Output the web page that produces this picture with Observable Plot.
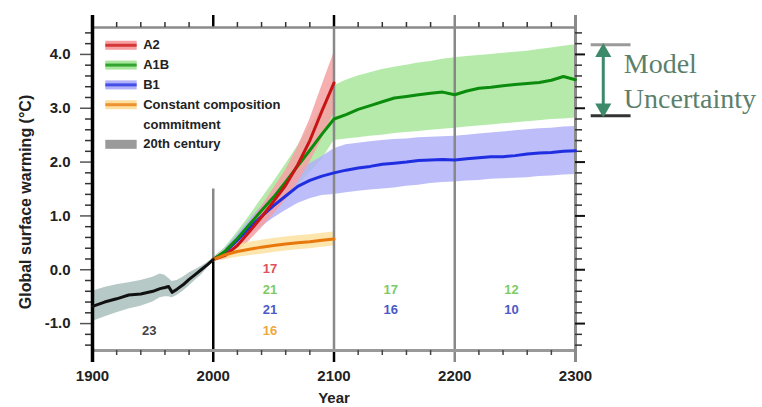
<!DOCTYPE html>
<html><head><meta charset="utf-8">
<script src="https://cdn.jsdelivr.net/npm/d3@7"></script>
<script src="https://cdn.jsdelivr.net/npm/@observablehq/plot@0.6"></script>
<style>body{margin:0;background:#fff}</style>
</head><body><div id="chart"></div>
<script>
// ---------- data ----------
const yrs20 = [1900,1910,1920,1930,1940,1950,1956,1960,1963,1966,1970,1975,1980,1985,1990,1995,2000];
const mean20 = [-0.68,-0.60,-0.54,-0.47,-0.45,-0.40,-0.35,-0.33,-0.31,-0.42,-0.36,-0.28,-0.18,-0.09,0.00,0.09,0.19];
const hi20   = [-0.40,-0.33,-0.28,-0.24,-0.20,-0.14,-0.08,-0.10,-0.16,-0.22,-0.20,-0.14,-0.06,0.00,0.06,0.13,0.22];
const lo20   = [-0.96,-0.88,-0.80,-0.73,-0.68,-0.60,-0.52,-0.50,-0.50,-0.52,-0.48,-0.40,-0.30,-0.20,-0.10,0.03,0.15];

const yrs21 = [2000,2010,2020,2030,2040,2050,2060,2070,2080,2090,2100];
const a2Mean = [0.19,0.27,0.45,0.71,0.98,1.27,1.57,1.95,2.40,2.95,3.47];
const a2Hi   = [0.22,0.35,0.57,0.86,1.17,1.51,1.85,2.28,2.79,3.42,4.03];
const a2Lo   = [0.16,0.19,0.33,0.54,0.77,1.03,1.29,1.62,1.99,2.43,2.91];

const ccMean = [0.19,0.28,0.34,0.38,0.42,0.45,0.48,0.50,0.52,0.55,0.57];
const ccHi   = [0.22,0.38,0.46,0.51,0.55,0.58,0.61,0.63,0.65,0.68,0.70];
const ccLo   = [0.16,0.19,0.23,0.26,0.29,0.32,0.35,0.37,0.39,0.42,0.44];

const yrsLong = [2000,2010,2020,2030,2040,2050,2060,2070,2080,2090,2100,
                 2110,2120,2130,2140,2150,2160,2170,2180,2190,2200,
                 2210,2220,2230,2240,2250,2260,2270,2280,2290,2300];
const a1bMean = [0.19,0.35,0.58,0.84,1.10,1.35,1.63,1.93,2.22,2.52,2.80,
                 2.88,2.98,3.05,3.12,3.19,3.22,3.25,3.28,3.30,3.25,
                 3.32,3.37,3.39,3.42,3.44,3.46,3.48,3.52,3.59,3.53];
const a1bHi   = [0.22,0.42,0.70,1.00,1.32,1.63,1.96,2.30,2.66,3.03,3.42,
                 3.52,3.60,3.66,3.72,3.76,3.80,3.84,3.87,3.91,3.94,
                 3.96,3.98,4.00,4.02,4.04,4.06,4.09,4.12,4.15,4.18];
const a1bLo   = [0.16,0.28,0.46,0.68,0.88,1.07,1.30,1.56,1.80,2.05,2.40,
                 2.43,2.45,2.48,2.50,2.53,2.55,2.57,2.59,2.61,2.63,
                 2.65,2.67,2.69,2.71,2.73,2.75,2.77,2.79,2.80,2.82];
const b1Mean  = [0.19,0.33,0.55,0.78,0.99,1.19,1.37,1.55,1.66,1.74,1.80,
                 1.85,1.89,1.92,1.96,1.98,2.00,2.03,2.04,2.05,2.04,
                 2.06,2.08,2.10,2.10,2.12,2.15,2.17,2.18,2.20,2.21];
const b1Hi    = [0.22,0.40,0.65,0.92,1.18,1.42,1.63,1.82,1.97,2.10,2.25,
                 2.32,2.35,2.38,2.40,2.42,2.43,2.45,2.46,2.47,2.48,
                 2.50,2.52,2.54,2.56,2.58,2.60,2.62,2.63,2.65,2.66];
const b1Lo    = [0.16,0.27,0.44,0.63,0.80,0.96,1.10,1.23,1.32,1.38,1.40,
                 1.43,1.46,1.48,1.50,1.52,1.55,1.57,1.60,1.62,1.63,
                 1.65,1.66,1.68,1.69,1.70,1.71,1.73,1.74,1.76,1.77];

// number of models per period and scenario
const countPeriods   = [1900, 2000, 2000, 2000, 2000, 2100, 2100, 2200, 2200];
const countScenarios = ["20th century","A2","A1B","B1","Constant composition commitment","A1B","B1","A1B","B1"];
const countN         = [23, 17, 21, 21, 16, 17, 16, 12, 10];

const legendLabels = ["A2","A1B","B1","Constant composition\ncommitment","20th century"];
const xTicks = [1900, 2000, 2100, 2200, 2300];
const yTicks = [-1, 0, 1, 2, 3, 4];
const yLabel = "Global surface warming (°C)";
const xLabel = "Year";
const uncertaintyLines = ["Model", "Uncertainty"];

// ---------- styles ----------
const F = "Liberation Sans, Arial, Helvetica, sans-serif";
const scen = {
  "A2": {line: "#c81414", band: "#f6a0a2"},
  "A1B": {line: "#0c8c0c", band: "#a8e69c"},
  "B1": {line: "#1e2ee0", band: "#b2b2f8"},
  "Constant composition commitment": {line: "#e8780c", band: "#fde0a0"},
  "20th century": {line: "#111111", band: "#a9bfbd"}
};
const numColor = {
  "A2": "#e0505a", "A1B": "#7ccc66", "B1": "#4a5ac8",
  "Constant composition commitment": "#f0a840", "20th century": "#444444"
};
const rowOf = {"A2": 0, "A1B": 1, "B1": 2, "Constant composition commitment": 3, "20th century": 3};

const rows = (yrs, m, hi, lo) => yrs.map((x, i) => ({x, m: m[i], hi: hi[i], lo: lo[i]}));
const r20 = rows(yrs20, mean20, hi20, lo20);
const rA2 = rows(yrs21, a2Mean, a2Hi, a2Lo);
const rCC = rows(yrs21, ccMean, ccHi, ccLo);
const rA1B = rows(yrsLong, a1bMean, a1bHi, a1bLo);
const rB1 = rows(yrsLong, b1Mean, b1Hi, b1Lo);

const counts = countN.map((n, i) => ({
  n, scen: countScenarios[i],
  x: countPeriods[i] + 47,
  y: 0.02 - 0.385 * rowOf[countScenarios[i]]
}));

// legend layout
const legendKeys = ["A2","A1B","B1","Constant composition commitment","20th century"];
let row = 0;
const legendText = [], legendSw = [];
legendLabels.forEach((lab, i) => {
  legendSw.push({row, key: legendKeys[i]});
  lab.split("\n").forEach(t => { legendText.push({row, t}); row++; });
});
const legY = r => 4.17 - 0.368 * r;

const yMinor = d3.range(-1.4, 4.41, 0.2).map(v => Math.round(v * 10) / 10).filter(v => Math.abs(v - Math.round(v)) > 1e-6);
const xMinor = d3.range(1920, 2300, 20).filter(v => v % 100 !== 0);

const band = (data, key) => Plot.areaY(data, {x: "x", y1: "lo", y2: "hi", fill: scen[key].band, fillOpacity: 0.85});
const line = (data, key, w = 3) => Plot.line(data, {x: "x", y: "m", stroke: scen[key].line, strokeWidth: w});

const chart = Plot.plot({
  width: 762, height: 407,
  marginLeft: 92, marginRight: 187, marginTop: 27, marginBottom: 57,
  x: {domain: [1900, 2300], axis: null},
  y: {domain: [-1.5, 4.5], axis: null},
  style: {fontFamily: F, background: "white", overflow: "visible"},
  marks: [
    // bands
    band(rA1B, "A1B"),
    band(rB1, "B1"),
    band(rA2, "A2"),
    band(rCC, "Constant composition commitment"),
    band(r20, "20th century"),
    // grid / frame
    Plot.ruleX([2100], {stroke: "#888", strokeWidth: 2.5}),
    Plot.ruleX([2200], {stroke: "#888", strokeWidth: 2.5, insetTop: -12, insetBottom: -12}),
    Plot.ruleX([2000], {y1: () => 1.5, y2: () => 0.15, stroke: "#888", strokeWidth: 2.5}),
    Plot.ruleX([2000], {y1: () => 0.15, y2: () => -1.5, stroke: "#000", strokeWidth: 2.5, insetBottom: -12}),
    Plot.ruleX([2000, 2100], {y1: () => 4.5, y2: () => 4.5, insetTop: -12, stroke: "#000", strokeWidth: 2.5}),
    Plot.ruleX([2100], {y1: () => -1.5, y2: () => -1.5, insetBottom: -12, stroke: "#000", strokeWidth: 2.5}),
    Plot.ruleY([4.5], {stroke: "#8a8a8a", strokeWidth: 2.5}),
    Plot.ruleY([-1.5], {stroke: "#999", strokeWidth: 3}),
    Plot.ruleX([2300], {stroke: "#8a8a8a", strokeWidth: 3, insetTop: -12, insetBottom: -12}),
    Plot.ruleX(xMinor, {y1: () => 4.5, y2: () => 4.5, insetTop: -5, stroke: "#333", strokeWidth: 1.5}),
    Plot.ruleX(xMinor, {y1: () => -1.5, y2: () => -1.5, insetBottom: -5, stroke: "#444", strokeWidth: 1.5}),
    // y ticks
    Plot.ruleY(yMinor, {x1: () => 1900, x2: () => 1900, insetLeft: -7, stroke: "#333", strokeWidth: 1.5}),
    Plot.ruleY(yTicks, {x1: () => 1900, x2: () => 1900, insetLeft: -12, stroke: "#555", strokeWidth: 1.5}),
    Plot.ruleY(yMinor, {x1: () => 2300, x2: () => 2300, insetRight: -7, stroke: "#333", strokeWidth: 1.5}),
    Plot.ruleY(yTicks, {x1: () => 2300, x2: () => 2300, insetRight: -10, stroke: "#111", strokeWidth: 2}),
    Plot.ruleX([1900], {stroke: "#000", strokeWidth: 3.5, insetTop: -12, insetBottom: -12}),
    // lines
    line(rB1, "B1"),
    line(rA1B, "A1B"),
    line(rA2, "A2"),
    line(rCC, "Constant composition commitment"),
    line(r20, "20th century"),
    // model counts
    Plot.text(counts, {x: "x", y: "y", text: d => String(d.n), fill: d => numColor[d.scen],
      fontSize: 13, fontWeight: "bold", stroke: "white", strokeWidth: 2, paintOrder: "stroke"}),
    // tick labels
    Plot.text(yTicks, {y: d => d, frameAnchor: "left", dx: -22, textAnchor: "end",
      text: d => d3.format(".1f")(d).replace("−", "-"), fontSize: 15, fontWeight: "bold", fill: "#222"}),
    Plot.text(xTicks, {x: d => d, frameAnchor: "bottom", dy: 30, text: d => String(d),
      fontSize: 15, fontWeight: "bold", fill: "#222"}),
    Plot.text([yLabel], {frameAnchor: "left", dx: -67, dy: 13, rotate: -90, textAnchor: "middle", text: d => d,
      fontSize: 16, fontWeight: "bold", fill: "#222"}),
    Plot.text([xLabel], {x: () => 2100, frameAnchor: "bottom", dy: 52, text: d => d,
      fontSize: 15, fontWeight: "bold", fill: "#222"}),
    // legend
    Plot.ruleY(legendSw, {y: d => legY(d.row), x1: () => 1911, x2: () => 1937,
      stroke: d => d.key === "20th century" ? "#9a9a9a" : scen[d.key].band, strokeWidth: 9}),
    Plot.ruleY(legendSw.filter(d => d.key !== "20th century"), {y: d => legY(d.row), x1: () => 1911, x2: () => 1937,
      stroke: d => scen[d.key].line, strokeWidth: 3, strokeOpacity: 0.75}),
    Plot.text(legendText, {x: () => 1942, y: d => legY(d.row), text: "t", textAnchor: "start",
      fontSize: 13, fontWeight: "bold", fill: "#222"}),
    // model uncertainty annotation
    Plot.ruleY([4.18], {x1: () => 2313, x2: () => 2346, stroke: "#9a9a9a", strokeWidth: 3}),
    Plot.ruleY([2.86], {x1: () => 2313, x2: () => 2346, stroke: "#333", strokeWidth: 3}),
    Plot.ruleX([2323], {y1: () => 4.1, y2: () => 2.94, stroke: "#3d8a6a", strokeWidth: 3}),
    Plot.dot([4.04], {x: () => 2323, y: d => d, symbol: "triangle", r: 6, fill: "#3d8a6a", stroke: "none"}),
    Plot.dot([3.0], {x: () => 2323, y: d => d, symbol: "triangle", r: 6, rotate: 180, fill: "#3d8a6a", stroke: "none"}),
    Plot.text(uncertaintyLines, {x: () => 2340, y: (d, i) => 3.82 - 0.64 * i, text: d => d, textAnchor: "start",
      fontFamily: "Liberation Serif, Times New Roman, serif", fontSize: 28, fill: "#5b7f6c"})
  ]
});
document.getElementById("chart").append(chart);
</script></body></html>
